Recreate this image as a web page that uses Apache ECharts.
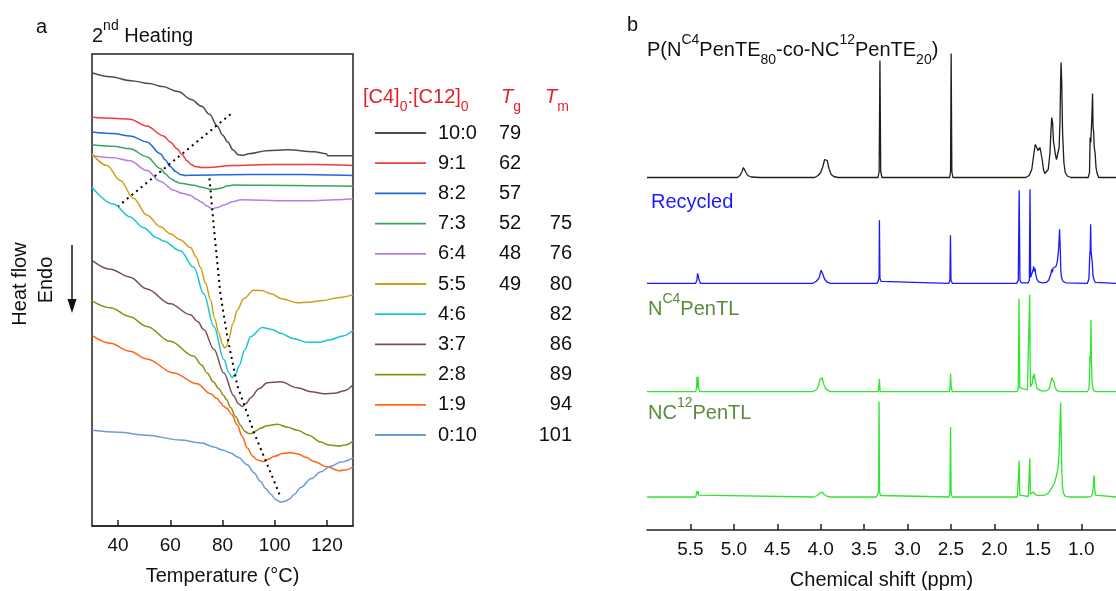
<!DOCTYPE html>
<html>
<head>
<meta charset="utf-8">
<script src="https://cdn.jsdelivr.net/npm/echarts@6.0.0/dist/echarts.min.js"></script>
<style>
html, body { margin: 0; padding: 0; background: #fff; }
#chart { width: 1116px; height: 591px; }
</style>
</head>
<body>
<div id="chart"></div>
<script>
const FONT = '"Liberation Sans", Arial, sans-serif'

// ---- panel a : DSC, 2nd heating ----
const ratios = ['10:0', '9:1', '8:2', '7:3', '6:4', '5:5', '4:6', '3:7', '2:8', '1:9', '0:10']
const tgValues = ['79', '62', '57', '52', '48', '49', '', '', '', '', '']
const tmValues = ['', '', '', '75', '76', '80', '82', '86', '89', '94', '101']
const dscColors = ['#4d4d4d', '#f03a3f', '#2166dd', '#3aa35f', '#b27fe3', '#d39e12',
  '#16c8cf', '#7b5050', '#8e8e12', '#ff6514', '#6d9bd5']
const tempTicks = [40, 60, 80, 100, 120]

// [temperature, heat flow (arb., stacked)]
const dsc10_0 = [[30,459],[37,455],[45,451],[52,448],[57,445],[63,440],[68,432],[72,425],[75,417],[78,405],[80,396],[82,389],[84,381],[86,376],[88,375.5],[90,377],[97,380],[105,381],[115,379],[119.8,377],[120.3,375],[130,375]]
const dsc9_1 = [[30,414],[38,413],[44.6,412],[51,405],[57.4,395],[60,389],[62.6,382],[64.5,376],[66.4,370],[68,366],[69.6,364],[72,363],[74,363],[84,365],[100,366],[115,366],[130,365]]
const dsc8_2 = [[30,399],[38,397.5],[44.6,395],[51,389],[56.2,377],[58,371],[60,364],[62,359],[63.8,356],[66,355],[69,355.3],[90,356],[110,356],[130,355]]
const dsc7_3 = [[30,386],[38,384.5],[44.6,382],[51,374],[56.2,362],[58,357],[60,352],[62,349],[63.8,347],[69,345],[72,343],[75.4,341],[77,341],[79.2,342],[82,344.5],[84.3,345.3],[95,345],[130,344]]
const dsc6_4 = [[30,375],[38,373],[44.6,370],[51,360],[56.2,349],[61.3,340],[64.5,337],[67.7,335],[70,331],[72,328],[74,324],[76,321.3],[78,322.5],[80.5,325],[84,328.5],[87,330.3],[95,330],[102,329.3],[115,329.5],[123,330.3],[130,331.3]]
const dsc5_5 = [[30,377],[35.7,365],[40.8,350],[45.9,332],[51,315],[56.2,303],[60,296],[63.8,290],[67.7,282],[70,272],[71.5,262],[73.5,246],[75.4,229],[77,210],[78.6,195],[80,184],[80.8,180.3],[81.6,182],[82.4,189],[84,205],[85.7,218.7],[88,230],[92,238.7],[95,238.5],[98.5,235.3],[103,230],[108.7,226],[113,226.5],[117.7,228],[125,231.5],[130,234.3]]
const dsc4_6 = [[30,343],[38.2,326],[44.6,313],[49.7,302],[54.9,292],[57.4,288.7],[63.8,278.7],[69,262],[72.8,235.3],[76.7,202],[80.5,168.7],[82.5,155],[83.7,150.3],[85,154],[86.3,162],[88.5,178],[90.8,192],[95.3,201],[99,199],[102.3,195.3],[107,190],[112.6,186],[117,186],[121.5,188.7],[126,192.5],[130,198]]
const dsc3_7 = [[30,269],[37,260],[44.6,252],[51,240],[60,225],[67.7,214],[70.5,207],[72.8,199],[76.7,179],[80.5,155],[84.3,132],[86,124],[87.6,121],[89,124],[90.8,130],[94,139],[97.2,145],[102.3,146],[108.7,140],[114,136],[119,134],[123,134.5],[126.7,137],[130,143]]
const dsc2_8 = [[30,228],[37,221],[44.6,212],[51,202],[60,187],[69,172],[72,163],[74.1,155],[76.5,146],[78.6,139],[80.5,132],[81.5,128],[83.1,120],[85,111],[86.9,102],[88.5,96],[90,93.7],[91,93.7],[92.5,96],[94.6,99],[97,101.5],[101,103],[105,100],[108.7,97],[113,92],[117.7,85],[121,82],[124.7,81],[127,82],[130,86]]
const dsc1_9 = [[30,193],[37,185],[44.6,177],[51,169],[61.3,155],[70.3,144],[75.4,134],[78,129],[79.2,125],[80.5,121],[81.8,119],[83.5,113],[85.7,102],[87.5,91],[89.5,79],[91.5,71],[93.3,67],[94.5,66],[95.9,65.3],[97.5,67.5],[99.7,70.3],[103,73.5],[106.2,74.3],[109,73],[112,69.5],[115.1,65.3],[120,60],[124.7,56],[127.5,57],[130,60]]
const dsc0_10 = [[30,97],[40,95],[51,92],[63.8,87],[72,84],[76.7,80],[80,77],[83.1,74],[86,69.5],[89.5,62],[92,54],[94.6,45],[96.5,38],[98.5,32],[100.5,26.5],[102.3,24.3],[104,25],[105.5,27],[107.5,32],[110,39],[114,48],[117.7,55],[121.5,60.5],[125.4,64.7],[130,69]]
const dscCurves = [dsc10_0, dsc9_1, dsc8_2, dsc7_3, dsc6_4, dsc5_5, dsc4_6, dsc3_7, dsc2_8, dsc1_9, dsc0_10]

// dotted trend arrows (Tg shift, Tm shift)
const tgArrow = [[83.1,417],[40.1,324]]
const tmArrow = [[75,352],[76.7,302],[79.2,235],[81.8,192],[85.7,142],[92,95],[97.2,62],[102.3,29]]

// ---- panel b : 1H NMR ----
const ppmTicks = [5.5, 5.0, 4.5, 4.0, 3.5, 3.0, 2.5, 2.0, 1.5, 1.0]
// [ppm, intensity]
const specPolymer = [[6.0,0],[4.96,0],[4.93,2],[4.905,6],[4.89,10],[4.875,9],[4.86,5],[4.84,2],[4.80,0.5],[4.70,0],
  [4.07,0],[4.03,2],[4.0,5],[3.975,11],[3.955,18],[3.94,20],[3.925,17],[3.905,9],[3.88,3],[3.85,1],[3.80,0],
  [3.60,0],[3.585,2],[3.575,0],
  [3.34,0],[3.327,6],[3.318,117],[3.309,6],[3.295,0],
  [2.68,0],[2.67,1.5],[2.66,0],
  [2.515,0],[2.505,6],[2.498,124],[2.49,6],[2.478,0],
  [1.64,0],[1.60,2],[1.57,8],[1.545,24],[1.53,33],[1.522,35],[1.512,30],[1.50,27],[1.488,27],[1.475,30],[1.465,28],[1.45,18],[1.435,8],[1.42,4],[1.40,3.5],[1.38,8],[1.36,25],[1.35,45],[1.34,60],[1.33,55],[1.32,36],[1.31,31],[1.30,24],[1.285,18],[1.27,20],[1.255,30],[1.245,55],[1.238,95],[1.232,115],[1.225,95],[1.215,45],[1.20,15],[1.185,5],[1.16,1.5],[1.12,0],
  [0.92,0],[0.905,5],[0.898,40],[0.89,35],[0.878,60],[0.870,84],[0.864,50],[0.858,46],[0.85,30],[0.84,24],[0.83,10],[0.82,5],[0.80,0],[0.6,0]]
const specRecycled = [[6.0,0],[5.44,0],[5.425,3],[5.418,10],[5.412,11],[5.406,9],[5.398,3],[5.385,0],
  [4.09,0],[4.05,2],[4.02,5],[4.005,10],[3.995,13],[3.985,11],[3.975,9],[3.955,4],[3.93,1.5],[3.89,0],
  [3.625,0],[3.615,1.5],[3.605,0],
  [3.35,0],[3.335,3],[3.328,6],[3.324,63],[3.318,5],[3.305,2],[3.29,0],
  [2.525,0],[2.512,3],[2.506,48],[2.5,3],[2.485,0],
  [1.745,0],[1.725,3],[1.715,93],[1.706,3],[1.69,0.5],[1.61,0.5],[1.598,3],[1.59,94],[1.583,6],[1.575,4],[1.565,6],[1.555,13],[1.548,17],[1.54,12],[1.532,15],[1.525,9],[1.51,4],[1.49,1.5],[1.45,0.5],[1.40,1],[1.375,3],[1.36,5],[1.35,9],[1.34,14],[1.333,11],[1.326,15],[1.318,13],[1.305,13],[1.29,17],[1.275,22],[1.26,35],[1.25,54],[1.242,35],[1.235,12],[1.225,5],[1.21,2],[1.18,0.5],
  [0.93,0],[0.912,4],[0.902,28],[0.897,33],[0.892,59],[0.887,32],[0.88,30],[0.873,20],[0.865,8],[0.855,4],[0.84,1],[0.82,0],[0.6,0]]
const specC4 = [[6.0,0],[5.44,0],[5.43,3],[5.424,15],[5.418,4],[5.412,15],[5.405,3],[5.39,0],
  [4.09,0],[4.05,2],[4.025,6],[4.01,12],[4.0,13],[3.99,12],[3.983,14],[3.97,9],[3.95,4],[3.925,1.5],[3.89,0],
  [3.335,0],[3.325,13],[3.315,0],
  [2.52,0],[2.51,4],[2.505,18],[2.497,4],[2.485,0],
  [1.74,0],[1.726,3],[1.717,93],[1.708,4],[1.695,2],[1.62,1.7],[1.603,3],[1.594,97],[1.586,5],[1.575,4],[1.565,8],[1.555,16],[1.548,13],[1.54,18],[1.532,12],[1.522,8],[1.51,3],[1.49,1],[1.45,0.5],[1.39,1],[1.365,4],[1.35,9],[1.34,14],[1.332,12],[1.325,15],[1.315,10],[1.30,4],[1.28,1],[1.25,0],
  [0.93,0],[0.912,3],[0.905,13],[0.9,36],[0.894,30],[0.888,72],[0.882,28],[0.876,12],[0.868,4],[0.855,1],[0.83,0],[0.6,0]]
const specC12 = [[6.0,0],[5.44,0],[5.43,2],[5.424,6],[5.418,3],[5.412,6],[5.405,2],[5.39,0],
  [4.08,0],[4.04,1.5],[4.01,4],[3.995,6],[3.98,5],[3.96,2.5],[3.93,1],[3.89,0],
  [3.36,0],[3.345,1.5],[3.334,5],[3.328,97],[3.322,5],[3.31,1.5],[3.295,0],
  [2.525,0],[2.512,3],[2.505,71],[2.498,3],[2.485,0],
  [1.735,0],[1.722,2],[1.715,37],[1.708,2],[1.695,0.5],[1.61,0.5],[1.598,2],[1.592,39],[1.585,3],[1.57,4],[1.555,5],[1.54,4],[1.52,2],[1.48,1.5],[1.42,2],[1.38,4],[1.34,9],[1.31,14],[1.29,20],[1.27,28],[1.255,45],[1.245,75],[1.238,96],[1.232,70],[1.226,35],[1.218,12],[1.205,4],[1.185,1],[1.15,0],
  [0.91,0],[0.88,1],[0.867,5],[0.86,14],[0.855,22],[0.85,19],[0.845,8],[0.835,2],[0.82,0],[0.6,0]]
const spectra = [specPolymer, specRecycled, specC4, specC12]
const specColors = ['#1e1e1e', '#1a1aff', '#2fe62f', '#2fe62f']
const specBaselines = [177.5, 283.3, 391.7, 499]

// ---- chart ----
const chart = echarts.init(document.getElementById('chart'))

const grids = [{ left: 92, top: 54, width: 261, height: 478, show: true, borderColor: '#222', borderWidth: 1.5 }]
specBaselines.forEach(b => grids.push({ left: 647, right: 0, top: b - 130, height: 130 }))

const xAxes = [{
  gridIndex: 0, type: 'value', min: 30, max: 130,
  axisLine: { onZero: false, lineStyle: { color: '#222', width: 1.5 } },
  axisTick: { inside: true, length: 6, customValues: tempTicks, lineStyle: { color: '#222', width: 1.5 } },
  axisLabel: { customValues: tempTicks, fontSize: 19, fontFamily: FONT, color: '#111', margin: 10 },
  splitLine: { show: false },
  name: 'Temperature (°C)', nameLocation: 'middle', nameGap: 40,
  nameTextStyle: { fontSize: 20, fontFamily: FONT, color: '#111' }
}]
spectra.forEach((s, k) => {
  const last = k === spectra.length - 1
  xAxes.push({
    gridIndex: k + 1, type: 'value', min: 0.6, max: 6.0, inverse: true, show: last,
    offset: last ? 33 : 0,
    axisLine: { onZero: false, lineStyle: { color: '#222', width: 1.5 } },
    axisTick: { inside: true, length: 6, customValues: ppmTicks, lineStyle: { color: '#222', width: 1.5 } },
    axisLabel: { customValues: ppmTicks, formatter: v => v.toFixed(1), fontSize: 19, fontFamily: FONT, color: '#111', margin: 10 },
    splitLine: { show: false },
    name: 'Chemical shift (ppm)', nameLocation: 'middle', nameGap: 40,
    nameTextStyle: { fontSize: 20, fontFamily: FONT, color: '#111' }
  })
})

const yAxes = [{ gridIndex: 0, type: 'value', min: 0, max: 478, show: false }]
spectra.forEach((s, k) => yAxes.push({ gridIndex: k + 1, type: 'value', min: 0, max: 130, show: false }))

const series = []
dscCurves.forEach((d, i) => series.push({
  type: 'line', name: ratios[i], xAxisIndex: 0, yAxisIndex: 0, data: d,
  symbol: 'none', smooth: 0.35, smoothMonotone: 'x', silent: true,
  lineStyle: { width: 1.5, color: dscColors[i] }, itemStyle: { color: dscColors[i] }
}))
series.push({
  type: 'lines', coordinateSystem: 'cartesian2d', xAxisIndex: 0, yAxisIndex: 0,
  polyline: true, symbol: ['none', 'arrow'], symbolSize: 13, silent: true, z: 5,
  lineStyle: { color: '#000', width: 2, type: [2, 4], opacity: 1 },
  data: [{ coords: tgArrow }, { coords: tmArrow }]
})
spectra.forEach((d, k) => series.push({
  type: 'line', xAxisIndex: k + 1, yAxisIndex: k + 1, data: d,
  symbol: 'none', clip: false, silent: true,
  lineStyle: { width: 1.3, color: specColors[k] }
}))

const red = '#e3202a'
const green = '#5a8a3a'
const rt = (size, lh, va) => ({ fontSize: size, fontFamily: FONT, lineHeight: lh, verticalAlign: va })
const txt = (x, y, text, fill, rich, extra) => Object.assign({
  type: 'text', x: x, y: y,
  style: { text: text, fill: fill, font: '20px ' + FONT, align: 'left', verticalAlign: 'middle', rich: rich }
}, extra || {})
const supRich = (c) => ({
  m: Object.assign(rt(20, 34, 'middle'), { fill: c }),
  i: Object.assign(rt(20, 34, 'middle'), { fill: c, fontStyle: 'italic' }),
  sup: Object.assign(rt(14, 14, 'top'), { fill: c }),
  sub: Object.assign(rt(14, 20, 'bottom'), { fill: c })
})
const vtext = (x, y, s) => ({
  type: 'text', x: x, y: y, rotation: Math.PI / 2,
  style: { text: s, fill: '#111', font: '20px ' + FONT, align: 'center', verticalAlign: 'middle' }
})

const graphics = [
  txt(36, 27, 'a', '#111'),
  txt(92, 36, '{m|2}{sup|nd}{m| Heating}', '#111', supRich('#111')),
  vtext(20, 284, 'Heat flow'),
  vtext(46, 280, 'Endo'),
  { type: 'line', shape: { x1: 72, y1: 245, x2: 72, y2: 303 }, style: { stroke: '#111', lineWidth: 1.5 } },
  { type: 'polygon', shape: { points: [[67.5, 299], [76.5, 299], [72, 313]] }, style: { fill: '#111' } },
  txt(363, 97, '{m|[C4]}{sub|0}{m|:[C12]}{sub|0}', red, supRich(red)),
  txt(501, 97, '{i|T}{sub|g}', red, supRich(red)),
  txt(545, 97, '{i|T}{sub|m}', red, supRich(red)),
  txt(627, 25, 'b', '#111'),
  txt(647, 50, '{m|P(N}{sup|C4}{m|PenTE}{sub|80}{m|-co-NC}{sup|12}{m|PenTE}{sub|20}{m|)}', '#111', supRich('#111')),
  txt(651, 202, 'Recycled', '#1a1aff'),
  txt(648, 309, '{m|N}{sup|C4}{m|PenTL}', green, supRich(green)),
  txt(648, 413, '{m|NC}{sup|12}{m|PenTL}', green, supRich(green))
]

const legendRich = {
  n: { width: 61, padding: [0, 0, 0, 7], fontSize: 20, lineHeight: 20, fontFamily: FONT, color: '#111' },
  t: { width: 44, fontSize: 20, lineHeight: 20, fontFamily: FONT, color: '#111' },
  m: { width: 29, align: 'right', fontSize: 20, lineHeight: 20, fontFamily: FONT, color: '#111' }
}

chart.setOption({
  backgroundColor: '#fff',
  animation: false,
  textStyle: { fontFamily: FONT },
  grid: grids,
  xAxis: xAxes,
  yAxis: yAxes,
  legend: {
    data: ratios, orient: 'vertical', left: 375, top: 123, padding: 0,
    icon: 'rect', itemWidth: 51, itemHeight: 1.8, itemGap: 10.2, selectedMode: false,
    textStyle: { fontSize: 20, fontFamily: FONT, color: '#111', rich: legendRich },
    formatter: name => {
      const i = ratios.indexOf(name)
      return `{n|${name}}{t|${tgValues[i] || '\u00a0'}}{m|${tmValues[i] || '\u00a0'}}`
    }
  },
  graphic: graphics,
  series: series
})
</script>
</body>
</html>
